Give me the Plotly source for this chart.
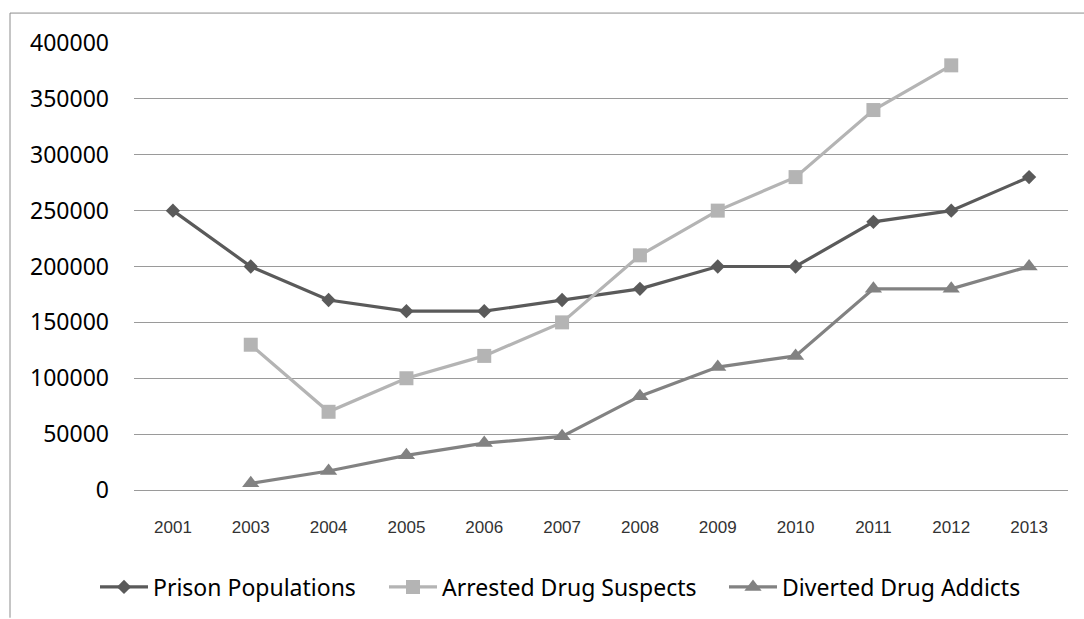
import plotly.graph_objects as go

# Reporting years (2002 has no entry)
years = ["2001", "2003", "2004", "2005", "2006", "2007",
         "2008", "2009", "2010", "2011", "2012", "2013"]

prison_populations = [250000, 200000, 170000, 160000, 160000, 170000,
                      180000, 200000, 200000, 240000, 250000, 280000]
arrested_suspects = [None, 130000, 70000, 100000, 120000, 150000,
                     210000, 250000, 280000, 340000, 380000, None]
diverted_addicts = [None, 6000, 17000, 31000, 42000, 48000,
                    84000, 110000, 120000, 180000, 180000, 200000]

y_ticks = [0, 50000, 100000, 150000, 200000, 250000, 300000, 350000, 400000]

W, H = 1084, 619
ML, MR, MT, MB = 134, 16, 43, 128
PW, PH = W - ML - MR, H - MT - MB


def px_x(x):
    return (x - ML) / PW


def px_y(y):
    return (H - MB - y) / PH


series = [
    ("Prison Populations", prison_populations, "#5a5a5a", "diamond", 11),
    ("Arrested Drug Suspects", arrested_suspects, "#b4b4b4", "square", 14),
    ("Diverted Drug Addicts", diverted_addicts, "#828282", "triangle-up", 15),
]

fig = go.Figure()
legend_names = ["legend", "legend2", "legend3"]
for (name, vals, color, symbol, size), lg in zip(series, legend_names):
    fig.add_trace(go.Scatter(
        x=years, y=vals, name=name, mode="lines+markers",
        line=dict(color=color, width=3.2),
        marker=dict(symbol=symbol, size=size, color=color),
        connectgaps=False, legend=lg,
    ))

legend_font = dict(family="Noto Sans", size=23, color="#000000")
legend_common = dict(orientation="h", font=legend_font, bgcolor="rgba(0,0,0,0)",
                     yanchor="middle", xanchor="left", itemwidth=48)

fig.update_layout(
    width=W, height=H,
    margin=dict(l=ML, r=MR, t=MT, b=MB),
    paper_bgcolor="white", plot_bgcolor="white",
    showlegend=True,
    legend=dict(x=px_x(95), y=px_y(587), **legend_common),
    legend2=dict(x=px_x(384), y=px_y(587), **legend_common),
    legend3=dict(x=px_x(724), y=px_y(587), **legend_common),
    xaxis=dict(
        type="category", categoryorder="array", categoryarray=years,
        range=[-0.5, len(years) - 0.5],
        showgrid=False, zeroline=False, showline=False, ticks="",
        tickfont=dict(family="Liberation Sans", size=17, color="#333333"),
        ticklabelstandoff=25,
    ),
    yaxis=dict(
        range=[0, 400000], tickvals=y_ticks, ticktext=[str(v) for v in y_ticks],
        showgrid=True, gridcolor="#9a9a9a", gridwidth=1,
        zeroline=True, zerolinecolor="#9a9a9a", zerolinewidth=1,
        showline=False, ticks="",
        tickfont=dict(family="Noto Sans", size=23, color="#000000"),
        ticklabelstandoff=24,
    ),
    shapes=[
        dict(type="line", xref="paper", yref="paper",
             x0=px_x(10), x1=px_x(W), y0=px_y(13), y1=px_y(13),
             line=dict(color="#8c8c8c", width=1)),
        dict(type="line", xref="paper", yref="paper",
             x0=px_x(10), x1=px_x(10), y0=px_y(13), y1=px_y(H),
             line=dict(color="#8c8c8c", width=1)),
    ],
)

fig.write_html("out.html")
